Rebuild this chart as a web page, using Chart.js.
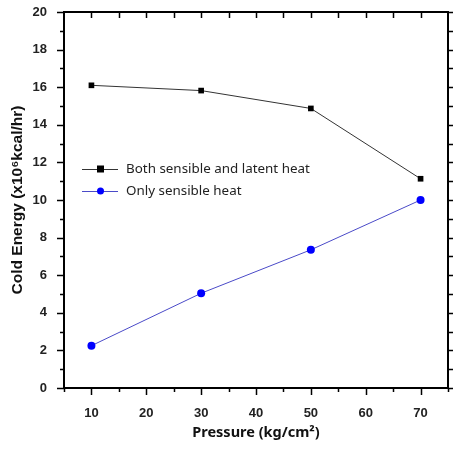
<!DOCTYPE html>
<html><head><meta charset="utf-8">
<script src="https://cdn.jsdelivr.net/npm/chart.js@4/dist/chart.umd.min.js"></script>
<style>html,body{margin:0;padding:0;background:#fff;}canvas{display:block;}</style>
</head><body>
<canvas id="c" width="454" height="449"></canvas>
<script>
const pressures = [10, 30, 50, 70];
const bothHeat = [16.1, 15.82, 14.87, 11.13];
const sensibleHeat = [2.25, 5.04, 7.35, 10.0];
const xTicks = [10, 20, 30, 40, 50, 60, 70];
const yTicks = [0, 2, 4, 6, 8, 10, 12, 14, 16, 18, 20];
const seriesLabels = ['Both sensible and latent heat', 'Only sensible heat'];

const frameTicks = {
  id: 'frameTicks',
  afterDraw(chart) {
    const {ctx, chartArea: a, scales: {x, y}} = chart;
    ctx.save();
    ctx.strokeStyle = '#000';
    ctx.lineWidth = 1.5;
    ctx.beginPath();
    for (let v = 5; v <= 75; v += 5) {
      const px = Math.round(x.getPixelForValue(v)) + 0.5;
      const major = v % 10 === 0;
      ctx.moveTo(px, a.bottom); ctx.lineTo(px, a.bottom + (major ? 7 : 4));
      if (v > 5 && v < 75) { ctx.moveTo(px, a.top); ctx.lineTo(px, a.top + 6); }
    }
    for (let v = 0; v <= 20; v += 1) {
      const py = Math.round(y.getPixelForValue(v)) + 0.5;
      const major = v % 2 === 0;
      ctx.moveTo(a.left, py); ctx.lineTo(a.left - (major ? 7 : 4), py);
      ctx.moveTo(a.right, py); ctx.lineTo(a.right + 5, py);
    }
    ctx.stroke();
    ctx.lineWidth = 2;
    ctx.strokeRect(a.left, a.top, a.right - a.left, a.bottom - a.top);
    // legend
    const rows = [169, 191];
    chart.data.datasets.forEach((ds, i) => {
      const yy = rows[i];
      ctx.strokeStyle = ds.borderColor; ctx.lineWidth = 1;
      ctx.beginPath(); ctx.moveTo(82, yy + 0.5); ctx.lineTo(118, yy + 0.5); ctx.stroke();
      ctx.fillStyle = ds.pointBackgroundColor;
      if (ds.pointStyle === 'rect') { ctx.fillRect(97, yy - 3.5, 7, 7); }
      else { ctx.beginPath(); ctx.arc(100.5, yy, 3.5, 0, Math.PI * 2); ctx.fill(); }
      ctx.fillStyle = '#222';
      ctx.font = '13.4px "Noto Sans"';
      ctx.textBaseline = 'middle';
      ctx.fillText(ds.label, 126, yy);
    });
    ctx.restore();
  }
};

new Chart(document.getElementById('c'), {
  type: 'line',
  data: {
    datasets: [
      {
        label: seriesLabels[0],
        data: pressures.map((p, i) => ({x: p, y: bothHeat[i]})),
        borderColor: '#333333', borderWidth: 1,
        pointStyle: 'rect', pointRadius: 4, pointBackgroundColor: '#000', pointBorderColor: '#000', pointBorderWidth: 0
      },
      {
        label: seriesLabels[1],
        data: pressures.map((p, i) => ({x: p, y: sensibleHeat[i]})),
        borderColor: '#4a4ac8', borderWidth: 1,
        pointStyle: 'circle', pointRadius: 4, pointBackgroundColor: '#0000ff', pointBorderColor: '#0000ff', pointBorderWidth: 0
      }
    ]
  },
  options: {
    responsive: false, animation: false,
    layout: {padding: {top: 12, right: 6, left: 0, bottom: 0}},
    plugins: {legend: {display: false}, tooltip: {enabled: false}},
    scales: {
      x: {
        type: 'linear', min: 5, max: 75,
        afterBuildTicks: s => { s.ticks = xTicks.map(v => ({value: v})); },
        afterFit: s => { s.height = 61; s.paddingLeft = 0; s.paddingRight = 0; },
        grid: {display: false},
        border: {display: false},
        ticks: {color: '#222', padding: 10, font: {family: '"Liberation Sans"', weight: 'bold', size: 13}},
        title: {display: true, text: 'Pressure (kg/cm²)', color: '#111', padding: {top: 2, bottom: 7},
          font: {family: '"Noto Sans"', weight: 'bold', size: 14.5}}
      },
      y: {
        type: 'linear', min: 0, max: 20,
        afterBuildTicks: s => { s.ticks = yTicks.map(v => ({value: v})); },
        afterFit: s => { s.width = 64; s.paddingTop = 0; s.paddingBottom = 0; },
        grid: {display: false},
        border: {display: false},
        ticks: {color: '#222', padding: 9, font: {family: '"Liberation Sans"', weight: 'bold', size: 13}},
        title: {display: true, text: 'Cold Energy (x10⁶kcal/hr)', color: '#111', padding: {top: 8, bottom: 0},
          font: {family: '"Liberation Sans"', weight: 'bold', size: 15.5}}
      }
    }
  },
  plugins: [frameTicks]
});
</script>
</body></html>
